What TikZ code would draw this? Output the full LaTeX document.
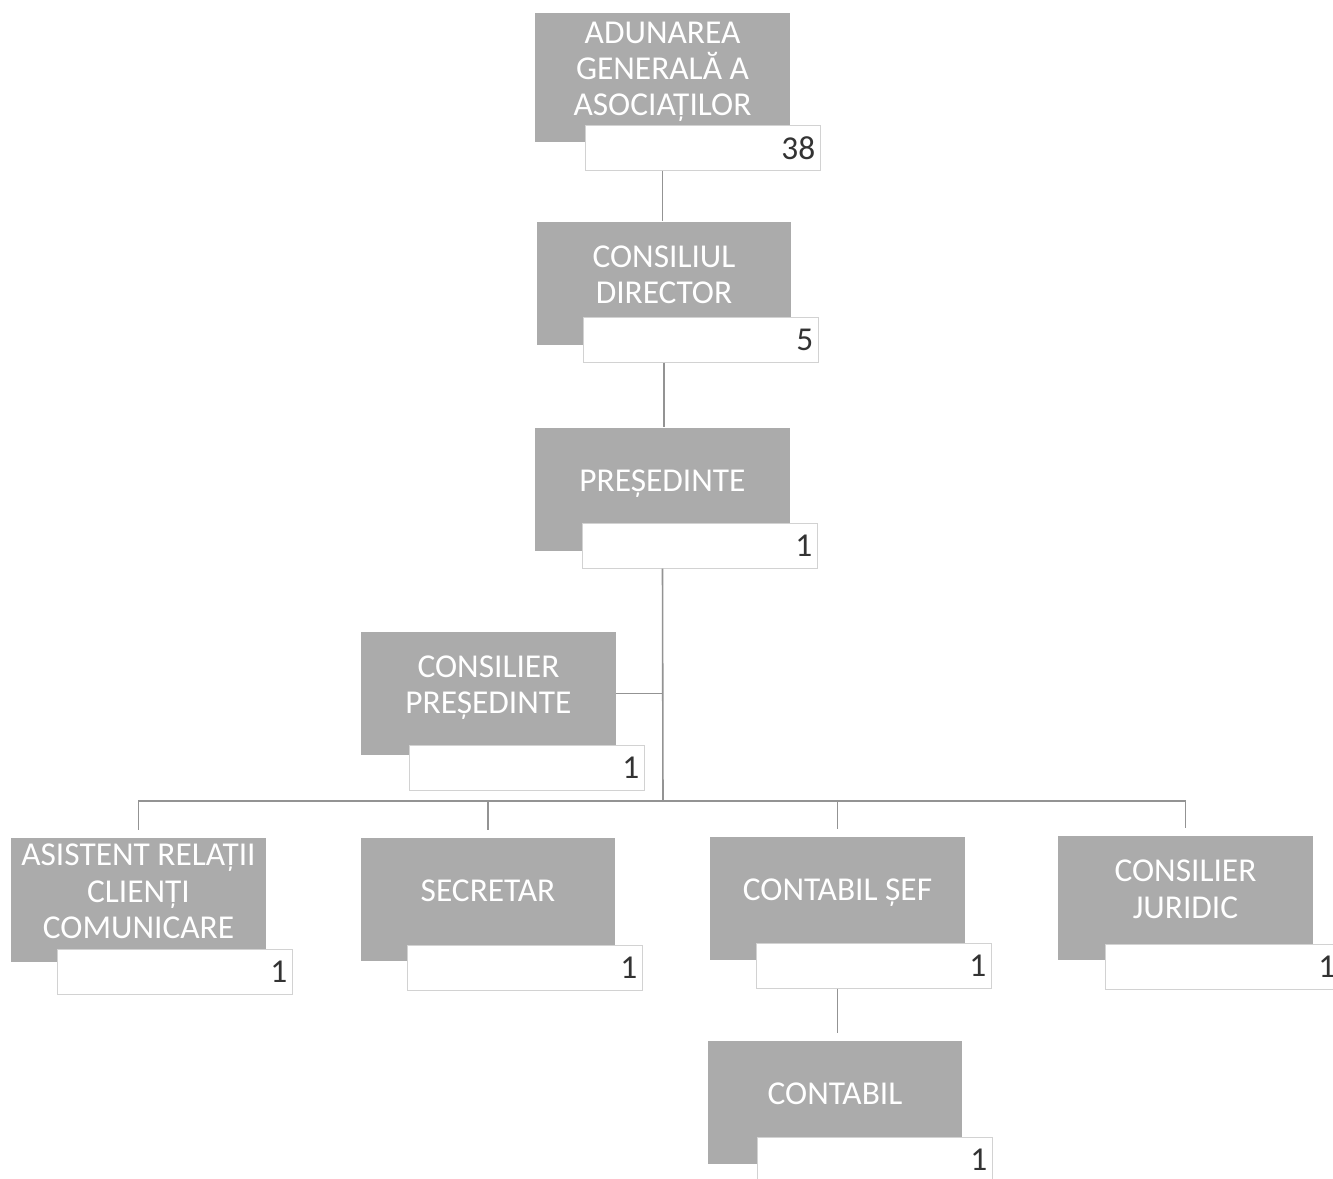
\documentclass[tikz,border=0pt]{standalone}
\usepackage{fontspec}
\setmainfont{Carlito}
\usepackage{tikz}

\begin{document}
\begin{tikzpicture}[x=0.02cm, y=-0.02cm,
		Functie/.style={fill=gray!66, text=white, minimum width=5.1cm, minimum height=2.48cm, inner sep=0pt, align=center, text depth=0.35cm, font=\fontsize{19}{20.7}\selectfont},
		Numar/.style={draw=gray!35, fill=white, anchor=north west, text width=4.5cm, minimum height=0.9cm, inner xsep=0.1cm, inner ysep=0pt, align=right, text=black!80, font=\fontsize{19}{20}\selectfont},
		Linie/.style={draw=gray!85, line width=0.9pt}]
				\useasboundingbox (0, 0) rectangle (1333, 1179);
				\coordinate (Bus) at (663, 801);
				
				\node[Functie, minimum height=2.58cm] (Adunare) at (662.5, 77.5) {ADUNAREA\\GENERALĂ A\\ASOCIAȚILOR};
				\node[Numar] (AdunareNr) at (585, 125) {38};
				
				\node[Functie] (Director) at (664, 283.5) {CONSILIUL\\DIRECTOR};
				\node[Numar] (DirectorNr) at (583, 317) {5};
				
				\node[Functie] (Presedinte) at (662.5, 489.5) {PREȘEDINTE};
				\node[Numar] (PresedinteNr) at (582, 523) {1};
				
				\node[Functie] (ConsilierPres) at (488.5, 693.5) {CONSILIER\\PREȘEDINTE};
				\node[Numar] (ConsilierPresNr) at (409, 745) {1};
				
				\node[Functie] (Asistent) at (138.5, 900) {ASISTENT RELAȚII\\CLIENȚI\\COMUNICARE};
				\node[Numar] (AsistentNr) at (57, 949) {1};
				
				\node[Functie] (Secretar) at (488, 899.5) {SECRETAR};
				\node[Numar] (SecretarNr) at (407, 945) {1};
				
				\node[Functie] (ContabilSef) at (837.5, 898.5) {CONTABIL ȘEF};
				\node[Numar] (ContabilSefNr) at (756, 943) {1};
				
				\node[Functie] (Juridic) at (1185.5, 898) {CONSILIER\\JURIDIC};
				\node[Numar] (JuridicNr) at (1105, 944) {1};
				
				\node[Functie] (Contabil) at (835, 1102.5) {CONTABIL};
				\node[Numar] (ContabilNr) at (757, 1137) {1};
				
				\draw[Linie] (AdunareNr.south -| Adunare.south) -- (Adunare.south |- Director.north);
				\draw[Linie] (DirectorNr.south -| Director.south) -- (Director.south |- Presedinte.north);
				\draw[Linie] (PresedinteNr.south -| Presedinte.south) -- (Bus);
				\draw[Linie] (ConsilierPres.east) -- (ConsilierPres.east -| Bus);
				\draw[Linie] (Bus) -| ([yshift=0.15cm]Asistent.north);
				\draw[Linie] (Bus) -| ([yshift=0.15cm]Secretar.north);
				\draw[Linie] (Bus) -| ([yshift=0.15cm]ContabilSef.north);
				\draw[Linie] (Bus) -| ([yshift=0.15cm]Juridic.north);
				\draw[Linie] (ContabilSefNr.south -| ContabilSef.south) -- ([yshift=0.14cm]ContabilSef.south |- Contabil.north);
			\end{tikzpicture}
\end{document}
